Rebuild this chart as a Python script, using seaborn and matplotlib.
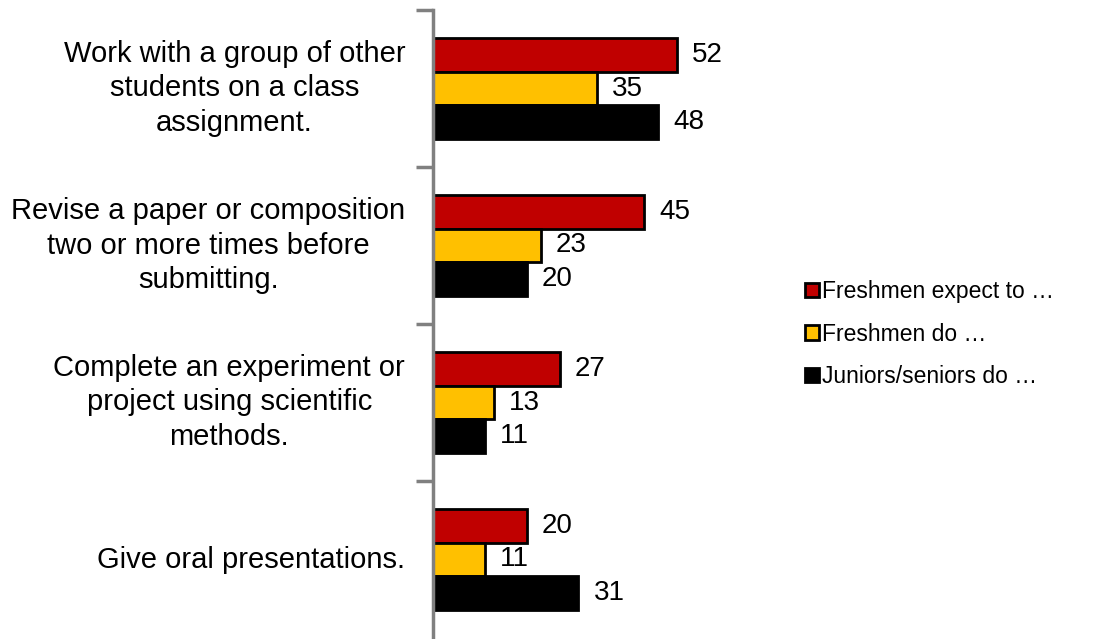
import matplotlib
matplotlib.use("Agg")
import matplotlib.pyplot as plt
from matplotlib.patches import Patch
import seaborn as sns
import pandas as pd

categories = [
    "Work with a group of other\nstudents on a class\nassignment.",
    "Revise a paper or composition\ntwo or more times before\nsubmitting.",
    "Complete an experiment or\nproject using scientific\nmethods.",
    "Give oral presentations.",
]
series = ["Freshmen expect to \u2026", "Freshmen do \u2026", "Juniors/seniors do \u2026"]
expect_fr = [52, 45, 27, 20]
do_fr = [35, 23, 13, 11]
do_jrsr = [48, 20, 11, 31]
colors = ["#C00000", "#FFC000", "#000000"]

rows = []
for name, vals in zip(series, [expect_fr, do_fr, do_jrsr]):
    for cat, v in zip(categories, vals):
        rows.append({"category": cat, "series": name, "value": v})
df = pd.DataFrame(rows)

sns.set_theme(style="white")
plt.rcParams["font.family"] = ["Liberation Sans", "DejaVu Sans"]

fig = plt.figure(figsize=(10.93, 6.39), dpi=100)
ax = fig.add_axes([433 / 1093, 1 / 639, 328 / 1093, 628 / 639])

sns.barplot(data=df, y="category", x="value", hue="series", order=categories,
            hue_order=series, palette=colors, saturation=1, orient="h", width=0.64,
            gap=0, edgecolor="black", linewidth=2, legend=False, ax=ax)

for cont in ax.containers:
    ax.bar_label(cont, padding=11, fontsize=20, color="black", clip_on=False)

ax.set_xlim(0, 70)
ax.set_ylim(3.5, -0.5)
ax.set_xlabel("")
ax.set_ylabel("")
ax.set_xticks([])
for s in ["top", "right", "bottom"]:
    ax.spines[s].set_visible(False)
ax.spines["left"].set_color("#808080")
ax.spines["left"].set_linewidth(2.5)

# category labels: right-aligned blocks with centred lines
ax.set_yticks(range(len(categories)))
ax.set_yticklabels(categories, fontsize=21, ha="right", va="center",
                   multialignment="center", linespacing=1.29, color="black")
ax.tick_params(axis="y", which="major", length=0, pad=20)
ax.set_yticks([-0.5, 0.5, 1.5, 2.5], minor=True)
ax.tick_params(axis="y", which="minor", length=12, width=2.5, color="#808080", left=True)

handles = [Patch(facecolor=c, edgecolor="black", linewidth=2) for c in colors]
fig.legend(handles, series, loc="upper left", bbox_to_anchor=(796 / 1093, 1 - 271 / 639),
           frameon=False, fontsize=16.5, handlelength=0.6, handleheight=0.6,
           handletextpad=0.15, labelspacing=0.85, borderaxespad=0, labelcolor="black")

fig.savefig("out.png", dpi=100)
